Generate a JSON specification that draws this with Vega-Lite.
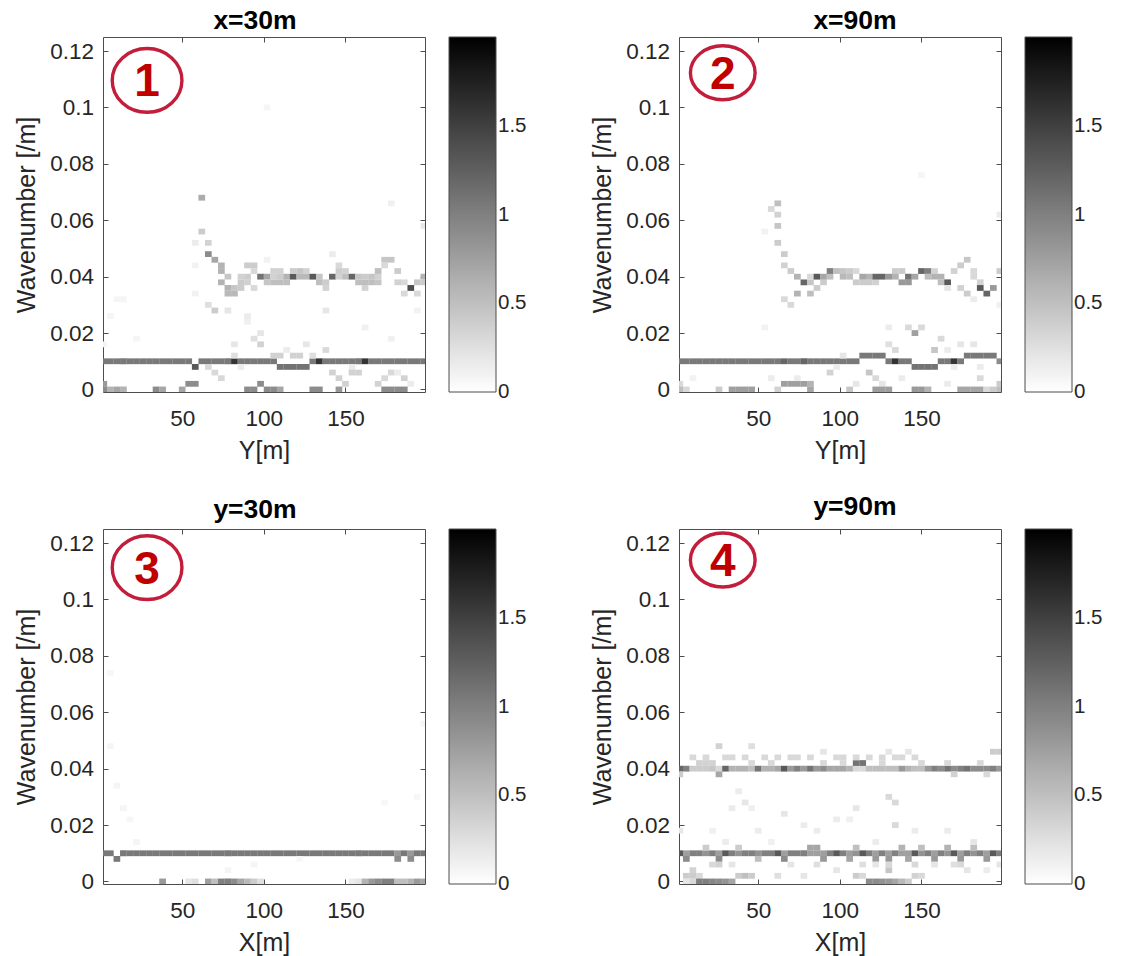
{
"$schema": "https://vega.github.io/schema/vega-lite/v6.json",
"background": "white",
"padding": {"left": 14, "top": 7, "right": 0, "bottom": 0},
"datasets": {
"x30": [
{"x":2,"k":0.01,"v":1.05},{"x":6,"k":0.01,"v":1.05},{"x":10,"k":0.01,"v":1.05},{"x":14,"k":0.01,"v":1.05},{"x":18,"k":0.01,"v":1.05},{"x":22,"k":0.01,"v":1.05},{"x":26,"k":0.01,"v":1.05},{"x":30,"k":0.01,"v":1.05},{"x":34,"k":0.01,"v":1.05},{"x":38,"k":0.01,"v":1.05},{"x":42,"k":0.01,"v":1.05},{"x":46,"k":0.01,"v":1.05},{"x":50,"k":0.01,"v":1.05},{"x":54,"k":0.01,"v":1.05},
{"x":58,"k":0.008,"v":1.3},
{"x":62,"k":0.01,"v":1.05},{"x":66,"k":0.01,"v":1.05},{"x":70,"k":0.01,"v":1.05},{"x":74,"k":0.01,"v":1.05},{"x":78,"k":0.01,"v":1.05},{"x":82,"k":0.01,"v":1.6},{"x":86,"k":0.01,"v":1.05},{"x":90,"k":0.01,"v":1.05},{"x":94,"k":0.01,"v":1.05},{"x":98,"k":0.01,"v":1.05},{"x":102,"k":0.01,"v":1.05},{"x":106,"k":0.01,"v":1.05},
{"x":110,"k":0.008,"v":1.1},{"x":114,"k":0.008,"v":1.1},{"x":118,"k":0.008,"v":1.1},{"x":122,"k":0.008,"v":1.1},{"x":126,"k":0.008,"v":1.1},
{"x":130,"k":0.01,"v":1.05},{"x":134,"k":0.01,"v":1.6},{"x":138,"k":0.01,"v":1.05},{"x":142,"k":0.01,"v":1.05},{"x":146,"k":0.01,"v":1.05},{"x":150,"k":0.01,"v":1.05},{"x":154,"k":0.01,"v":1.05},{"x":158,"k":0.01,"v":1.05},{"x":162,"k":0.01,"v":1.6},{"x":166,"k":0.01,"v":1.05},{"x":170,"k":0.01,"v":1.05},{"x":174,"k":0.01,"v":1.05},{"x":178,"k":0.01,"v":1.05},{"x":182,"k":0.01,"v":1.05},{"x":186,"k":0.01,"v":1.05},{"x":190,"k":0.01,"v":1.05},{"x":194,"k":0.01,"v":1.05},{"x":198,"k":0.01,"v":1.05},
{"x":106,"k":0.012,"v":0.35},{"x":110,"k":0.012,"v":0.35},{"x":118,"k":0.012,"v":0.35},{"x":122,"k":0.012,"v":0.35},{"x":114,"k":0.014,"v":0.15},{"x":138,"k":0.014,"v":0.3},{"x":98,"k":0.016,"v":0.35},{"x":94,"k":0.018,"v":0.25},{"x":98,"k":0.02,"v":0.2},{"x":82,"k":0.016,"v":0.2},{"x":82,"k":0.012,"v":0.25},{"x":126,"k":0.016,"v":0.2},{"x":130,"k":0.012,"v":0.25},{"x":90,"k":0.024,"v":0.12},{"x":162,"k":0.022,"v":0.12},{"x":178,"k":0.018,"v":0.12},{"x":22,"k":0.018,"v":0.08},{"x":6,"k":0.026,"v":0.08},{"x":14,"k":0.032,"v":0.08},{"x":2,"k":0.016,"v":0.08},
{"x":66,"k":0.008,"v":0.3},{"x":70,"k":0.006,"v":0.3},{"x":74,"k":0.004,"v":0.3},{"x":86,"k":0.008,"v":0.15},{"x":142,"k":0.006,"v":0.35},{"x":146,"k":0.004,"v":0.35},{"x":150,"k":0.002,"v":0.35},{"x":154,"k":0.008,"v":0.15},{"x":154,"k":0.006,"v":0.35},{"x":158,"k":0.006,"v":0.35},{"x":170,"k":0.002,"v":0.35},{"x":174,"k":0.004,"v":0.3},{"x":178,"k":0.006,"v":0.3},{"x":182,"k":0.006,"v":0.15},{"x":186,"k":0.004,"v":0.35},{"x":190,"k":0.002,"v":0.15},
{"x":54,"k":0.002,"v":0.9},{"x":58,"k":0.002,"v":0.9},{"x":98,"k":0.002,"v":0.9},{"x":2,"k":0.002,"v":0.8},
{"x":2,"k":0,"v":0.9},{"x":6,"k":0,"v":0.6},{"x":10,"k":0,"v":0.7},{"x":14,"k":0,"v":0.6},{"x":34,"k":0,"v":0.9},{"x":38,"k":0,"v":0.7},{"x":50,"k":0,"v":0.7},{"x":90,"k":0,"v":0.9},{"x":94,"k":0,"v":0.9},{"x":102,"k":0,"v":0.9},{"x":106,"k":0,"v":0.9},{"x":110,"k":0,"v":0.7},{"x":130,"k":0,"v":0.9},{"x":134,"k":0,"v":0.9},{"x":146,"k":0,"v":0.8},{"x":174,"k":0,"v":0.9},{"x":178,"k":0,"v":0.9},{"x":182,"k":0,"v":0.9},{"x":186,"k":0,"v":0.9},
{"x":62,"k":0.068,"v":0.65},{"x":62,"k":0.056,"v":0.4},{"x":58,"k":0.052,"v":0.15},{"x":66,"k":0.052,"v":0.35},{"x":66,"k":0.048,"v":0.9},{"x":70,"k":0.046,"v":0.7},{"x":74,"k":0.044,"v":0.6},{"x":74,"k":0.042,"v":0.6},
{"x":78,"k":0.04,"v":0.45},{"x":74,"k":0.038,"v":0.6},{"x":78,"k":0.036,"v":0.6},{"x":78,"k":0.034,"v":0.55},{"x":82,"k":0.034,"v":0.55},{"x":82,"k":0.036,"v":0.45},{"x":86,"k":0.036,"v":0.4},{"x":86,"k":0.038,"v":0.4},{"x":90,"k":0.038,"v":0.35},{"x":86,"k":0.04,"v":0.35},{"x":90,"k":0.04,"v":0.4},{"x":90,"k":0.044,"v":0.4},{"x":94,"k":0.044,"v":0.4},{"x":94,"k":0.042,"v":0.3},{"x":94,"k":0.036,"v":0.3},{"x":98,"k":0.04,"v":1.1},{"x":102,"k":0.04,"v":0.7},{"x":102,"k":0.038,"v":0.45},{"x":106,"k":0.038,"v":0.5},{"x":110,"k":0.038,"v":0.5},{"x":114,"k":0.038,"v":0.5},{"x":106,"k":0.04,"v":0.35},{"x":110,"k":0.04,"v":0.4},{"x":106,"k":0.042,"v":0.35},{"x":110,"k":0.042,"v":0.35},{"x":114,"k":0.04,"v":0.6},{"x":118,"k":0.04,"v":1.3},{"x":118,"k":0.042,"v":0.4},{"x":122,"k":0.04,"v":0.55},{"x":122,"k":0.042,"v":0.45},{"x":126,"k":0.04,"v":0.55},{"x":126,"k":0.042,"v":0.35},{"x":130,"k":0.04,"v":1.3},{"x":134,"k":0.04,"v":0.45},{"x":134,"k":0.038,"v":0.5},{"x":138,"k":0.038,"v":0.4},{"x":138,"k":0.036,"v":0.35},{"x":142,"k":0.04,"v":1.2},{"x":146,"k":0.042,"v":0.4},{"x":146,"k":0.044,"v":0.3},{"x":146,"k":0.04,"v":0.35},{"x":150,"k":0.04,"v":0.5},{"x":150,"k":0.042,"v":0.35},{"x":154,"k":0.04,"v":1.2},{"x":158,"k":0.038,"v":0.5},{"x":158,"k":0.04,"v":0.45},{"x":162,"k":0.038,"v":0.5},{"x":162,"k":0.04,"v":0.4},{"x":166,"k":0.038,"v":0.5},{"x":166,"k":0.04,"v":0.45},{"x":170,"k":0.038,"v":0.45},{"x":170,"k":0.04,"v":0.35},{"x":162,"k":0.036,"v":0.35},{"x":170,"k":0.042,"v":0.5},{"x":174,"k":0.046,"v":0.45},{"x":178,"k":0.046,"v":0.45},{"x":174,"k":0.044,"v":0.3},{"x":182,"k":0.042,"v":0.4},{"x":182,"k":0.038,"v":0.35},{"x":186,"k":0.034,"v":0.3},{"x":186,"k":0.038,"v":0.3},{"x":190,"k":0.036,"v":1.4},{"x":194,"k":0.034,"v":0.3},{"x":194,"k":0.038,"v":0.45},{"x":198,"k":0.04,"v":0.6},{"x":198,"k":0.038,"v":0.4},
{"x":66,"k":0.03,"v":0.25},{"x":70,"k":0.028,"v":0.4},{"x":78,"k":0.028,"v":0.2},{"x":90,"k":0.026,"v":0.15},{"x":138,"k":0.028,"v":0.2},{"x":142,"k":0.048,"v":0.15},{"x":102,"k":0.046,"v":0.1},{"x":178,"k":0.066,"v":0.12},{"x":198,"k":0.058,"v":0.2},{"x":102,"k":0.1,"v":0.08},{"x":58,"k":0.044,"v":0.1},{"x":58,"k":0.034,"v":0.1},{"x":194,"k":0.028,"v":0.1},{"x":10,"k":0.032,"v":0.08}
],
"x90": [
{"x":2,"k":0.01,"v":1.05},{"x":6,"k":0.01,"v":1.05},{"x":10,"k":0.01,"v":1.05},{"x":14,"k":0.01,"v":1.05},{"x":18,"k":0.01,"v":1.05},{"x":22,"k":0.01,"v":1.05},{"x":26,"k":0.01,"v":1.05},{"x":30,"k":0.01,"v":1.05},{"x":34,"k":0.01,"v":1.05},{"x":38,"k":0.01,"v":1.05},{"x":42,"k":0.01,"v":1.05},{"x":46,"k":0.01,"v":1.05},{"x":50,"k":0.01,"v":1.05},{"x":54,"k":0.01,"v":1.05},{"x":58,"k":0.01,"v":1.05},{"x":62,"k":0.01,"v":1.05},{"x":66,"k":0.01,"v":1.2},{"x":70,"k":0.01,"v":1.05},{"x":74,"k":0.01,"v":1.05},{"x":78,"k":0.01,"v":1.2},{"x":82,"k":0.01,"v":1.05},{"x":86,"k":0.01,"v":1.05},{"x":90,"k":0.01,"v":1.05},{"x":94,"k":0.01,"v":1.05},{"x":98,"k":0.01,"v":1.05},{"x":102,"k":0.01,"v":1.05},{"x":106,"k":0.01,"v":1.05},{"x":110,"k":0.01,"v":1.05},
{"x":114,"k":0.012,"v":1.05},{"x":118,"k":0.012,"v":1.05},{"x":122,"k":0.012,"v":1.05},{"x":126,"k":0.012,"v":1.05},
{"x":130,"k":0.01,"v":1.05},{"x":134,"k":0.01,"v":1.6},{"x":138,"k":0.01,"v":1.05},{"x":142,"k":0.01,"v":1.05},
{"x":146,"k":0.008,"v":1.1},{"x":150,"k":0.008,"v":1.1},{"x":154,"k":0.008,"v":1.1},{"x":158,"k":0.008,"v":1.1},
{"x":162,"k":0.01,"v":1.05},{"x":166,"k":0.01,"v":1.05},{"x":170,"k":0.01,"v":1.6},{"x":174,"k":0.01,"v":1.05},
{"x":178,"k":0.012,"v":1.05},{"x":182,"k":0.012,"v":1.05},{"x":186,"k":0.012,"v":1.05},{"x":190,"k":0.012,"v":1.05},{"x":194,"k":0.012,"v":1.05},{"x":198,"k":0.01,"v":0.9},
{"x":146,"k":0.02,"v":0.75},{"x":142,"k":0.022,"v":0.3},{"x":150,"k":0.022,"v":0.3},{"x":130,"k":0.022,"v":0.15},{"x":130,"k":0.016,"v":0.25},{"x":134,"k":0.014,"v":0.3},{"x":162,"k":0.018,"v":0.3},{"x":158,"k":0.014,"v":0.45},{"x":166,"k":0.014,"v":0.15},{"x":174,"k":0.016,"v":0.2},{"x":182,"k":0.016,"v":0.2},{"x":170,"k":0.008,"v":0.15},{"x":102,"k":0.012,"v":0.2},{"x":98,"k":0.008,"v":0.15},{"x":94,"k":0.006,"v":0.35},{"x":118,"k":0.006,"v":0.45},{"x":122,"k":0.004,"v":0.3},{"x":126,"k":0.002,"v":0.2},{"x":138,"k":0.004,"v":0.15},{"x":66,"k":0.002,"v":0.75},{"x":70,"k":0.002,"v":0.75},{"x":74,"k":0.002,"v":0.75},{"x":78,"k":0.002,"v":0.75},{"x":82,"k":0.002,"v":0.6},{"x":58,"k":0.004,"v":0.15},{"x":74,"k":0.004,"v":0.15},{"x":110,"k":0.002,"v":0.2},{"x":186,"k":0.004,"v":0.3},{"x":186,"k":0.008,"v":0.15},{"x":166,"k":0.002,"v":0.15},{"x":10,"k":0.004,"v":0.1},{"x":2,"k":0.002,"v":0.3},{"x":198,"k":0.002,"v":0.4},{"x":54,"k":0.022,"v":0.1},
{"x":2,"k":0,"v":0.5},{"x":6,"k":0,"v":0.3},{"x":26,"k":0,"v":0.4},{"x":34,"k":0,"v":0.75},{"x":38,"k":0,"v":0.75},{"x":42,"k":0,"v":0.75},{"x":46,"k":0,"v":0.75},{"x":62,"k":0,"v":0.35},{"x":82,"k":0,"v":0.7},{"x":106,"k":0,"v":0.45},{"x":122,"k":0,"v":0.75},{"x":126,"k":0,"v":0.75},{"x":130,"k":0,"v":0.75},{"x":146,"k":0,"v":0.8},{"x":150,"k":0,"v":0.8},{"x":154,"k":0,"v":0.6},{"x":174,"k":0,"v":0.7},{"x":178,"k":0,"v":0.7},{"x":182,"k":0,"v":0.7},{"x":186,"k":0,"v":0.7},{"x":190,"k":0,"v":0.3},{"x":194,"k":0,"v":0.4},{"x":198,"k":0,"v":0.5},
{"x":58,"k":0.064,"v":0.3},{"x":62,"k":0.066,"v":0.5},{"x":62,"k":0.062,"v":0.35},{"x":54,"k":0.056,"v":0.1},{"x":62,"k":0.058,"v":0.45},{"x":62,"k":0.052,"v":0.4},{"x":66,"k":0.048,"v":0.4},{"x":66,"k":0.044,"v":0.35},{"x":70,"k":0.042,"v":0.4},{"x":74,"k":0.04,"v":0.6},{"x":78,"k":0.038,"v":1.2},{"x":82,"k":0.038,"v":0.45},{"x":82,"k":0.04,"v":0.3},{"x":86,"k":0.036,"v":0.4},{"x":74,"k":0.034,"v":0.6},{"x":82,"k":0.034,"v":0.5},{"x":66,"k":0.032,"v":0.3},{"x":70,"k":0.03,"v":0.3},{"x":86,"k":0.04,"v":1.3},{"x":90,"k":0.038,"v":0.4},{"x":90,"k":0.04,"v":0.7},{"x":94,"k":0.04,"v":0.5},{"x":94,"k":0.042,"v":1.0},{"x":98,"k":0.042,"v":0.5},{"x":102,"k":0.042,"v":0.45},{"x":106,"k":0.042,"v":0.4},{"x":102,"k":0.04,"v":0.55},{"x":106,"k":0.04,"v":0.5},{"x":110,"k":0.038,"v":0.4},{"x":114,"k":0.038,"v":0.4},{"x":118,"k":0.038,"v":0.4},{"x":122,"k":0.038,"v":0.35},{"x":110,"k":0.042,"v":0.3},{"x":114,"k":0.04,"v":0.7},{"x":118,"k":0.04,"v":0.6},{"x":122,"k":0.04,"v":1.2},{"x":126,"k":0.04,"v":1.2},{"x":130,"k":0.04,"v":0.8},{"x":134,"k":0.042,"v":0.4},{"x":138,"k":0.042,"v":0.4},{"x":134,"k":0.04,"v":0.6},{"x":138,"k":0.038,"v":0.8},{"x":142,"k":0.038,"v":0.8},{"x":142,"k":0.04,"v":1.1},{"x":146,"k":0.04,"v":0.7},{"x":150,"k":0.042,"v":1.2},{"x":154,"k":0.042,"v":1.0},{"x":154,"k":0.04,"v":0.5},{"x":158,"k":0.04,"v":0.6},{"x":158,"k":0.042,"v":0.35},{"x":162,"k":0.04,"v":0.6},{"x":162,"k":0.038,"v":0.5},{"x":166,"k":0.038,"v":1.3},{"x":166,"k":0.036,"v":0.2},{"x":170,"k":0.042,"v":0.35},{"x":174,"k":0.044,"v":0.4},{"x":178,"k":0.046,"v":0.45},{"x":182,"k":0.042,"v":0.3},{"x":174,"k":0.036,"v":0.35},{"x":178,"k":0.034,"v":0.4},{"x":182,"k":0.032,"v":0.15},{"x":182,"k":0.04,"v":0.3},{"x":186,"k":0.038,"v":0.35},{"x":186,"k":0.036,"v":1.3},{"x":190,"k":0.034,"v":1.2},{"x":194,"k":0.036,"v":0.8},{"x":198,"k":0.042,"v":0.4},{"x":198,"k":0.03,"v":0.12},{"x":198,"k":0.062,"v":0.15},{"x":150,"k":0.076,"v":0.08}
],
"y30": [
{"x":2,"k":0.01,"v":1.05},{"x":6,"k":0.01,"v":1.05},{"x":10,"k":0.008,"v":1.05},{"x":14,"k":0.01,"v":1.05},{"x":18,"k":0.01,"v":1.05},{"x":22,"k":0.01,"v":1.05},{"x":26,"k":0.01,"v":1.05},{"x":30,"k":0.01,"v":1.05},{"x":34,"k":0.01,"v":1.05},{"x":38,"k":0.01,"v":1.05},{"x":42,"k":0.01,"v":1.05},{"x":46,"k":0.01,"v":1.05},{"x":50,"k":0.01,"v":1.05},{"x":54,"k":0.01,"v":1.05},{"x":58,"k":0.01,"v":1.05},{"x":62,"k":0.01,"v":1.05},{"x":66,"k":0.01,"v":1.05},{"x":70,"k":0.01,"v":1.05},{"x":74,"k":0.01,"v":1.05},{"x":78,"k":0.01,"v":1.05},{"x":82,"k":0.01,"v":1.05},{"x":86,"k":0.01,"v":1.05},{"x":90,"k":0.01,"v":1.05},{"x":94,"k":0.01,"v":1.05},{"x":98,"k":0.01,"v":1.05},{"x":102,"k":0.01,"v":1.05},{"x":106,"k":0.01,"v":1.05},{"x":110,"k":0.01,"v":1.05},{"x":114,"k":0.01,"v":1.05},{"x":118,"k":0.01,"v":1.05},{"x":122,"k":0.01,"v":1.05},{"x":126,"k":0.01,"v":1.05},{"x":130,"k":0.01,"v":1.05},{"x":134,"k":0.01,"v":1.05},{"x":138,"k":0.01,"v":1.05},{"x":142,"k":0.01,"v":1.05},{"x":146,"k":0.01,"v":1.05},{"x":150,"k":0.01,"v":1.05},{"x":154,"k":0.01,"v":1.05},{"x":158,"k":0.01,"v":1.05},{"x":162,"k":0.01,"v":1.05},{"x":166,"k":0.01,"v":1.05},{"x":170,"k":0.01,"v":1.05},{"x":174,"k":0.01,"v":1.05},{"x":178,"k":0.01,"v":1.05},{"x":182,"k":0.01,"v":0.8},{"x":186,"k":0.01,"v":1.05},{"x":190,"k":0.01,"v":0.8},{"x":194,"k":0.01,"v":1.05},{"x":198,"k":0.01,"v":1.05},
{"x":182,"k":0.008,"v":0.9},{"x":190,"k":0.008,"v":0.9},
{"x":38,"k":0,"v":0.8},{"x":54,"k":0,"v":0.2},{"x":58,"k":0,"v":0.25},{"x":66,"k":0,"v":0.75},{"x":70,"k":0,"v":0.5},{"x":74,"k":0,"v":1.0},{"x":78,"k":0,"v":1.0},{"x":82,"k":0,"v":0.9},{"x":86,"k":0,"v":0.7},{"x":90,"k":0,"v":0.55},{"x":94,"k":0,"v":0.4},{"x":98,"k":0,"v":0.25},{"x":154,"k":0,"v":0.15},{"x":158,"k":0,"v":0.2},{"x":162,"k":0,"v":0.6},{"x":166,"k":0,"v":0.8},{"x":170,"k":0,"v":0.9},{"x":174,"k":0,"v":1.0},{"x":178,"k":0,"v":1.0},{"x":182,"k":0,"v":0.5},{"x":186,"k":0,"v":0.5},{"x":190,"k":0,"v":0.6},{"x":194,"k":0,"v":0.8},{"x":198,"k":0,"v":0.7},
{"x":6,"k":0.048,"v":0.08},{"x":10,"k":0.034,"v":0.08},{"x":14,"k":0.026,"v":0.08},{"x":18,"k":0.022,"v":0.06},{"x":6,"k":0.074,"v":0.06},{"x":198,"k":0.056,"v":0.08},{"x":194,"k":0.03,"v":0.06},{"x":174,"k":0.028,"v":0.06},{"x":22,"k":0.014,"v":0.08},{"x":78,"k":0.004,"v":0.08},{"x":94,"k":0.006,"v":0.08},{"x":122,"k":0.008,"v":0.06}
],
"y90": [
{"x":2,"k":0.04,"v":1.2},{"x":6,"k":0.04,"v":1.0},{"x":10,"k":0.04,"v":0.4},{"x":14,"k":0.04,"v":0.4},{"x":18,"k":0.04,"v":0.4},{"x":22,"k":0.04,"v":0.45},{"x":26,"k":0.04,"v":0.3},{"x":30,"k":0.04,"v":1.2},{"x":34,"k":0.04,"v":0.6},{"x":38,"k":0.04,"v":0.6},{"x":42,"k":0.04,"v":0.6},{"x":46,"k":0.04,"v":0.5},{"x":50,"k":0.04,"v":1.1},{"x":54,"k":0.04,"v":0.6},{"x":58,"k":0.04,"v":0.6},{"x":62,"k":0.04,"v":0.7},{"x":66,"k":0.04,"v":1.3},{"x":70,"k":0.04,"v":0.8},{"x":74,"k":0.04,"v":1.0},{"x":78,"k":0.04,"v":0.8},{"x":82,"k":0.04,"v":1.1},{"x":86,"k":0.04,"v":0.8},{"x":90,"k":0.04,"v":0.9},{"x":94,"k":0.04,"v":0.7},{"x":98,"k":0.04,"v":0.7},{"x":102,"k":0.04,"v":0.7},{"x":106,"k":0.04,"v":0.6},{"x":110,"k":0.04,"v":0.3},{"x":114,"k":0.04,"v":0.3},{"x":118,"k":0.04,"v":0.5},{"x":122,"k":0.04,"v":0.5},{"x":126,"k":0.04,"v":0.5},{"x":130,"k":0.04,"v":0.5},{"x":134,"k":0.04,"v":0.5},{"x":138,"k":0.04,"v":0.8},{"x":142,"k":0.04,"v":0.6},{"x":146,"k":0.04,"v":0.5},{"x":150,"k":0.04,"v":0.5},{"x":154,"k":0.04,"v":0.8},{"x":158,"k":0.04,"v":1.0},{"x":162,"k":0.04,"v":0.9},{"x":166,"k":0.04,"v":1.1},{"x":170,"k":0.04,"v":0.9},{"x":174,"k":0.04,"v":1.0},{"x":178,"k":0.04,"v":1.1},{"x":182,"k":0.04,"v":0.9},{"x":186,"k":0.04,"v":0.9},{"x":190,"k":0.04,"v":0.9},{"x":194,"k":0.04,"v":1.0},{"x":198,"k":0.04,"v":0.8},
{"x":110,"k":0.042,"v":1.1},{"x":114,"k":0.042,"v":1.1},{"x":26,"k":0.038,"v":0.7},{"x":26,"k":0.048,"v":0.35},{"x":46,"k":0.048,"v":0.25},{"x":90,"k":0.046,"v":0.2},{"x":130,"k":0.046,"v":0.2},{"x":142,"k":0.046,"v":0.2},{"x":194,"k":0.046,"v":0.4},{"x":198,"k":0.046,"v":0.4},{"x":170,"k":0.038,"v":0.35},{"x":190,"k":0.038,"v":0.3},{"x":2,"k":0.038,"v":0.4},
{"x":10,"k":0.044,"v":0.3},{"x":18,"k":0.044,"v":0.3},{"x":30,"k":0.044,"v":0.3},{"x":34,"k":0.044,"v":0.3},{"x":42,"k":0.044,"v":0.3},{"x":54,"k":0.044,"v":0.3},{"x":62,"k":0.044,"v":0.3},{"x":70,"k":0.044,"v":0.3},{"x":74,"k":0.044,"v":0.3},{"x":82,"k":0.044,"v":0.3},{"x":98,"k":0.044,"v":0.3},{"x":102,"k":0.044,"v":0.3},{"x":110,"k":0.044,"v":0.3},{"x":118,"k":0.044,"v":0.3},{"x":126,"k":0.044,"v":0.3},{"x":134,"k":0.044,"v":0.3},{"x":138,"k":0.044,"v":0.3},{"x":146,"k":0.044,"v":0.3},
{"x":14,"k":0.042,"v":0.35},{"x":18,"k":0.042,"v":0.35},{"x":22,"k":0.042,"v":0.35},{"x":46,"k":0.042,"v":0.3},{"x":58,"k":0.042,"v":0.3},{"x":90,"k":0.042,"v":0.3},{"x":102,"k":0.042,"v":0.3},{"x":126,"k":0.042,"v":0.3},{"x":150,"k":0.042,"v":0.3},{"x":166,"k":0.042,"v":0.3},{"x":186,"k":0.042,"v":0.3},
{"x":2,"k":0.01,"v":1.3},{"x":6,"k":0.01,"v":0.75},{"x":10,"k":0.01,"v":1.0},{"x":14,"k":0.01,"v":1.0},{"x":18,"k":0.01,"v":0.85},{"x":22,"k":0.01,"v":1.0},{"x":26,"k":0.01,"v":0.75},{"x":30,"k":0.01,"v":1.3},{"x":34,"k":0.01,"v":1.0},{"x":38,"k":0.01,"v":0.85},{"x":42,"k":0.01,"v":1.0},{"x":46,"k":0.01,"v":1.0},{"x":50,"k":0.01,"v":0.85},{"x":54,"k":0.01,"v":1.0},{"x":58,"k":0.01,"v":1.0},{"x":62,"k":0.01,"v":1.3},{"x":66,"k":0.01,"v":0.75},{"x":70,"k":0.01,"v":1.0},{"x":74,"k":0.01,"v":1.0},{"x":78,"k":0.01,"v":1.0},{"x":82,"k":0.01,"v":0.75},{"x":86,"k":0.01,"v":0.75},{"x":90,"k":0.01,"v":0.75},{"x":94,"k":0.01,"v":1.0},{"x":98,"k":0.01,"v":1.3},{"x":102,"k":0.01,"v":1.0},{"x":106,"k":0.01,"v":0.75},{"x":110,"k":0.01,"v":0.85},{"x":114,"k":0.01,"v":1.3},{"x":118,"k":0.01,"v":1.0},{"x":122,"k":0.01,"v":0.75},{"x":126,"k":0.01,"v":1.0},{"x":130,"k":0.01,"v":0.75},{"x":134,"k":0.01,"v":1.0},{"x":138,"k":0.01,"v":0.75},{"x":142,"k":0.01,"v":0.75},{"x":146,"k":0.01,"v":1.3},{"x":150,"k":0.01,"v":0.85},{"x":154,"k":0.01,"v":1.0},{"x":158,"k":0.01,"v":0.75},{"x":162,"k":0.01,"v":1.0},{"x":166,"k":0.01,"v":0.85},{"x":170,"k":0.01,"v":1.3},{"x":174,"k":0.01,"v":0.75},{"x":178,"k":0.01,"v":1.0},{"x":182,"k":0.01,"v":0.85},{"x":186,"k":0.01,"v":1.0},{"x":190,"k":0.01,"v":0.75},{"x":194,"k":0.01,"v":1.3},{"x":198,"k":0.01,"v":1.0},
{"x":6,"k":0.008,"v":0.9},{"x":26,"k":0.008,"v":0.9},{"x":50,"k":0.008,"v":0.5},{"x":66,"k":0.008,"v":0.9},{"x":90,"k":0.008,"v":0.8},{"x":106,"k":0.008,"v":0.7},{"x":122,"k":0.008,"v":0.8},{"x":130,"k":0.008,"v":0.8},{"x":142,"k":0.008,"v":0.7},{"x":158,"k":0.008,"v":0.8},{"x":174,"k":0.008,"v":0.8},{"x":190,"k":0.008,"v":0.8},
{"x":18,"k":0.012,"v":0.4},{"x":38,"k":0.012,"v":0.4},{"x":82,"k":0.012,"v":0.7},{"x":86,"k":0.012,"v":0.7},{"x":110,"k":0.012,"v":0.5},{"x":138,"k":0.012,"v":0.6},{"x":150,"k":0.012,"v":0.5},{"x":166,"k":0.012,"v":0.6},{"x":182,"k":0.012,"v":0.5},
{"x":6,"k":0.002,"v":0.4},{"x":10,"k":0.002,"v":0.4},{"x":14,"k":0.002,"v":0.3},{"x":10,"k":0.004,"v":0.35},{"x":38,"k":0.002,"v":0.4},{"x":42,"k":0.002,"v":0.5},{"x":46,"k":0.002,"v":0.4},{"x":62,"k":0.002,"v":0.25},{"x":78,"k":0.002,"v":0.2},{"x":98,"k":0.004,"v":0.2},{"x":110,"k":0.002,"v":0.4},{"x":114,"k":0.002,"v":0.3},{"x":130,"k":0.004,"v":0.45},{"x":146,"k":0.002,"v":0.35},{"x":150,"k":0.002,"v":0.3},{"x":22,"k":0.006,"v":0.3},{"x":26,"k":0.006,"v":0.35},{"x":34,"k":0.006,"v":0.2},{"x":70,"k":0.006,"v":0.2},{"x":86,"k":0.006,"v":0.25},{"x":114,"k":0.006,"v":0.25},{"x":122,"k":0.006,"v":0.2},{"x":130,"k":0.006,"v":0.3},{"x":146,"k":0.006,"v":0.3},{"x":158,"k":0.006,"v":0.2},{"x":170,"k":0.006,"v":0.25},{"x":174,"k":0.006,"v":0.3},{"x":178,"k":0.004,"v":0.2},{"x":190,"k":0.004,"v":0.15},{"x":198,"k":0.006,"v":0.2},
{"x":6,"k":0,"v":0.2},{"x":10,"k":0,"v":0.3},{"x":14,"k":0,"v":1.0},{"x":18,"k":0,"v":1.0},{"x":22,"k":0,"v":0.95},{"x":26,"k":0,"v":0.9},{"x":30,"k":0,"v":0.85},{"x":34,"k":0,"v":0.7},{"x":118,"k":0,"v":0.9},{"x":122,"k":0,"v":0.9},{"x":126,"k":0,"v":0.85},{"x":130,"k":0,"v":0.8},{"x":134,"k":0,"v":0.7},{"x":138,"k":0,"v":0.55},{"x":142,"k":0,"v":0.4},
{"x":38,"k":0.032,"v":0.15},{"x":34,"k":0.026,"v":0.15},{"x":42,"k":0.028,"v":0.2},{"x":46,"k":0.026,"v":0.12},{"x":66,"k":0.024,"v":0.2},{"x":78,"k":0.02,"v":0.15},{"x":98,"k":0.022,"v":0.15},{"x":106,"k":0.022,"v":0.12},{"x":110,"k":0.026,"v":0.2},{"x":130,"k":0.03,"v":0.3},{"x":134,"k":0.028,"v":0.3},{"x":134,"k":0.02,"v":0.3},{"x":146,"k":0.018,"v":0.15},{"x":166,"k":0.018,"v":0.15},{"x":50,"k":0.018,"v":0.15},{"x":22,"k":0.018,"v":0.12},{"x":86,"k":0.018,"v":0.15},{"x":2,"k":0.018,"v":0.2},{"x":30,"k":0.014,"v":0.15},{"x":58,"k":0.014,"v":0.12},{"x":122,"k":0.014,"v":0.15},{"x":182,"k":0.014,"v":0.2}
],
"marks": [
{"panel":"x30","x":28.5,"k":0.1096,"n":"1"},
{"panel":"x90","x":28.3,"k":0.1123,"n":"2"},
{"panel":"y30","x":28.5,"k":0.1113,"n":"3"},
{"panel":"y90","x":28.3,"k":0.114,"n":"4"}
]
},
"vconcat": [
{"hconcat": [
{"width": 322, "height": 355, "title": {"text": "x=30m", "dx": -9, "offset": 2},
 "layer": [
  {"data": {"name": "x30"}, "mark": {"type": "rect", "width": 6.7, "height": 5.8, "clip": true},
   "encoding": {
    "x": {"field": "x", "type": "quantitative", "scale": {"domain": [1.5, 198.7], "nice": false, "zero": false}, "axis": {"title": "Y[m]", "values": [50, 100, 150], "orient": "bottom"}},
    "y": {"field": "k", "type": "quantitative", "scale": {"domain": [-0.0009, 0.125], "nice": false, "zero": false}, "axis": {"title": "Wavenumber [/m]", "values": [0, 0.02, 0.04, 0.06, 0.08, 0.1, 0.12], "format": "~g", "orient": "left"}},
    "color": {"field": "v", "type": "quantitative", "scale": {"domain": [0, 2], "range": ["#ffffff", "#000000"], "interpolate": "rgb"}, "legend": {"title": null, "values": [0, 0.5, 1, 1.5], "format": "~g", "direction": "vertical", "gradientLength": 355, "encode": {"labels": {"update": {"baseline": {"value": "middle"}}}}}}
   }},
  {"data": {"name": "marks"}, "transform": [{"filter": "datum.panel == 'x30'"}],
   "mark": {"type": "point", "shape": "M-1,0A1,0.914,0,1,0,1,0A1,0.914,0,1,0,-1,0Z", "filled": false, "size": 4858, "stroke": "#C21E3C", "strokeWidth": 3.4, "opacity": 1},
   "encoding": {
    "x": {"field": "x", "type": "quantitative", "scale": {"domain": [1.5, 198.7], "nice": false, "zero": false}, "axis": {"orient": "top", "labels": false, "title": null, "values": [50, 100, 150]}},
    "y": {"field": "k", "type": "quantitative", "scale": {"domain": [-0.0009, 0.125], "nice": false, "zero": false}, "axis": {"orient": "right", "labels": false, "title": null, "values": [0, 0.02, 0.04, 0.06, 0.08, 0.1, 0.12]}}
   }},
  {"data": {"name": "marks"}, "transform": [{"filter": "datum.panel == 'x30'"}],
   "mark": {"type": "text", "font": "Liberation Sans", "fontSize": 46, "fontWeight": "bold", "color": "#C00000", "align": "center", "baseline": "middle", "dy": 2},
   "encoding": {
    "x": {"field": "x", "type": "quantitative", "axis": null},
    "y": {"field": "k", "type": "quantitative", "axis": null},
    "text": {"field": "n"}
   }}
 ],
 "resolve": {"axis": {"x": "independent", "y": "independent"}}
},
{"width": 322, "height": 355, "title": {"text": "x=90m", "dx": 15, "offset": 2},
 "layer": [
  {"data": {"name": "x90"}, "mark": {"type": "rect", "width": 6.7, "height": 5.8, "clip": true},
   "encoding": {
    "x": {"field": "x", "type": "quantitative", "scale": {"domain": [1.5, 198.7], "nice": false, "zero": false}, "axis": {"title": "Y[m]", "values": [50, 100, 150], "orient": "bottom"}},
    "y": {"field": "k", "type": "quantitative", "scale": {"domain": [-0.0009, 0.125], "nice": false, "zero": false}, "axis": {"title": "Wavenumber [/m]", "values": [0, 0.02, 0.04, 0.06, 0.08, 0.1, 0.12], "format": "~g", "orient": "left"}},
    "color": {"field": "v", "type": "quantitative", "scale": {"domain": [0, 2], "range": ["#ffffff", "#000000"], "interpolate": "rgb"}, "legend": {"title": null, "values": [0, 0.5, 1, 1.5], "format": "~g", "direction": "vertical", "gradientLength": 355, "encode": {"labels": {"update": {"baseline": {"value": "middle"}}}}}}
   }},
  {"data": {"name": "marks"}, "transform": [{"filter": "datum.panel == 'x90'"}],
   "mark": {"type": "point", "shape": "M-1,0A1,0.835,0,1,0,1,0A1,0.835,0,1,0,-1,0Z", "filled": false, "size": 4186, "stroke": "#C21E3C", "strokeWidth": 3.4, "opacity": 1},
   "encoding": {
    "x": {"field": "x", "type": "quantitative", "scale": {"domain": [1.5, 198.7], "nice": false, "zero": false}, "axis": {"orient": "top", "labels": false, "title": null, "values": [50, 100, 150]}},
    "y": {"field": "k", "type": "quantitative", "scale": {"domain": [-0.0009, 0.125], "nice": false, "zero": false}, "axis": {"orient": "right", "labels": false, "title": null, "values": [0, 0.02, 0.04, 0.06, 0.08, 0.1, 0.12]}}
   }},
  {"data": {"name": "marks"}, "transform": [{"filter": "datum.panel == 'x90'"}],
   "mark": {"type": "text", "font": "Liberation Sans", "fontSize": 46, "fontWeight": "bold", "color": "#C00000", "align": "center", "baseline": "middle", "dy": 2},
   "encoding": {
    "x": {"field": "x", "type": "quantitative", "axis": null},
    "y": {"field": "k", "type": "quantitative", "axis": null},
    "text": {"field": "n"}
   }}
 ],
 "resolve": {"axis": {"x": "independent", "y": "independent"}}
}
], "spacing": 62, "resolve": {"scale": {"color": "independent"}, "legend": {"color": "independent"}}},
{"hconcat": [
{"width": 322, "height": 355, "title": {"text": "y=30m", "dx": -9, "offset": 5.5},
 "layer": [
  {"data": {"name": "y30"}, "mark": {"type": "rect", "width": 6.7, "height": 5.8, "clip": true},
   "encoding": {
    "x": {"field": "x", "type": "quantitative", "scale": {"domain": [1.5, 198.7], "nice": false, "zero": false}, "axis": {"title": "X[m]", "values": [50, 100, 150], "orient": "bottom"}},
    "y": {"field": "k", "type": "quantitative", "scale": {"domain": [-0.0009, 0.125], "nice": false, "zero": false}, "axis": {"title": "Wavenumber [/m]", "values": [0, 0.02, 0.04, 0.06, 0.08, 0.1, 0.12], "format": "~g", "orient": "left"}},
    "color": {"field": "v", "type": "quantitative", "scale": {"domain": [0, 2], "range": ["#ffffff", "#000000"], "interpolate": "rgb"}, "legend": {"title": null, "values": [0, 0.5, 1, 1.5], "format": "~g", "direction": "vertical", "gradientLength": 355, "encode": {"labels": {"update": {"baseline": {"value": "middle"}}}}}}
   }},
  {"data": {"name": "marks"}, "transform": [{"filter": "datum.panel == 'y30'"}],
   "mark": {"type": "point", "shape": "M-1,0A1,0.914,0,1,0,1,0A1,0.914,0,1,0,-1,0Z", "filled": false, "size": 4858, "stroke": "#C21E3C", "strokeWidth": 3.4, "opacity": 1},
   "encoding": {
    "x": {"field": "x", "type": "quantitative", "scale": {"domain": [1.5, 198.7], "nice": false, "zero": false}, "axis": {"orient": "top", "labels": false, "title": null, "values": [50, 100, 150]}},
    "y": {"field": "k", "type": "quantitative", "scale": {"domain": [-0.0009, 0.125], "nice": false, "zero": false}, "axis": {"orient": "right", "labels": false, "title": null, "values": [0, 0.02, 0.04, 0.06, 0.08, 0.1, 0.12]}}
   }},
  {"data": {"name": "marks"}, "transform": [{"filter": "datum.panel == 'y30'"}],
   "mark": {"type": "text", "font": "Liberation Sans", "fontSize": 46, "fontWeight": "bold", "color": "#C00000", "align": "center", "baseline": "middle", "dy": 2},
   "encoding": {
    "x": {"field": "x", "type": "quantitative", "axis": null},
    "y": {"field": "k", "type": "quantitative", "axis": null},
    "text": {"field": "n"}
   }}
 ],
 "resolve": {"axis": {"x": "independent", "y": "independent"}}
},
{"width": 322, "height": 355, "title": {"text": "y=90m", "dx": 15, "offset": 5.5},
 "layer": [
  {"data": {"name": "y90"}, "mark": {"type": "rect", "width": 6.7, "height": 5.8, "clip": true},
   "encoding": {
    "x": {"field": "x", "type": "quantitative", "scale": {"domain": [1.5, 198.7], "nice": false, "zero": false}, "axis": {"title": "X[m]", "values": [50, 100, 150], "orient": "bottom"}},
    "y": {"field": "k", "type": "quantitative", "scale": {"domain": [-0.0009, 0.125], "nice": false, "zero": false}, "axis": {"title": "Wavenumber [/m]", "values": [0, 0.02, 0.04, 0.06, 0.08, 0.1, 0.12], "format": "~g", "orient": "left"}},
    "color": {"field": "v", "type": "quantitative", "scale": {"domain": [0, 2], "range": ["#ffffff", "#000000"], "interpolate": "rgb"}, "legend": {"title": null, "values": [0, 0.5, 1, 1.5], "format": "~g", "direction": "vertical", "gradientLength": 355, "encode": {"labels": {"update": {"baseline": {"value": "middle"}}}}}}
   }},
  {"data": {"name": "marks"}, "transform": [{"filter": "datum.panel == 'y90'"}],
   "mark": {"type": "point", "shape": "M-1,0A1,0.835,0,1,0,1,0A1,0.835,0,1,0,-1,0Z", "filled": false, "size": 4186, "stroke": "#C21E3C", "strokeWidth": 3.4, "opacity": 1},
   "encoding": {
    "x": {"field": "x", "type": "quantitative", "scale": {"domain": [1.5, 198.7], "nice": false, "zero": false}, "axis": {"orient": "top", "labels": false, "title": null, "values": [50, 100, 150]}},
    "y": {"field": "k", "type": "quantitative", "scale": {"domain": [-0.0009, 0.125], "nice": false, "zero": false}, "axis": {"orient": "right", "labels": false, "title": null, "values": [0, 0.02, 0.04, 0.06, 0.08, 0.1, 0.12]}}
   }},
  {"data": {"name": "marks"}, "transform": [{"filter": "datum.panel == 'y90'"}],
   "mark": {"type": "text", "font": "Liberation Sans", "fontSize": 46, "fontWeight": "bold", "color": "#C00000", "align": "center", "baseline": "middle", "dy": 2},
   "encoding": {
    "x": {"field": "x", "type": "quantitative", "axis": null},
    "y": {"field": "k", "type": "quantitative", "axis": null},
    "text": {"field": "n"}
   }}
 ],
 "resolve": {"axis": {"x": "independent", "y": "independent"}}
}
], "spacing": 62, "resolve": {"scale": {"color": "independent"}, "legend": {"color": "independent"}}}
],
"spacing": 29,
"resolve": {"scale": {"color": "independent"}, "legend": {"color": "independent"}},
"config": {
 "font": "Liberation Sans",
 "view": {"stroke": "#4d4d4d", "strokeWidth": 1},
 "axis": {"grid": false, "domain": false, "labelFont": "Liberation Sans", "labelFontSize": 22.5, "labelColor": "#262626", "titleFont": "Liberation Sans", "titleFontSize": 25, "titleFontWeight": "normal", "titleColor": "#262626", "tickColor": "#4d4d4d", "tickSize": -5, "tickWidth": 1},
 "axisX": {"labelPadding": 20, "titlePadding": 9},
 "axisY": {"labelPadding": 14.5, "titlePadding": 10},
 "legend": {"orient": "right", "offset": 23, "padding": 0, "gradientThickness": 47, "gradientStrokeColor": "#4d4d4d", "gradientStrokeWidth": 1, "labelFont": "Liberation Sans", "labelFontSize": 20.5, "labelColor": "#262626", "labelOffset": 8.5, "labelOverlap": false},
 "title": {"font": "Liberation Sans", "fontSize": 26.5, "fontWeight": "bold", "color": "#000000", "anchor": "middle"}
}
}
